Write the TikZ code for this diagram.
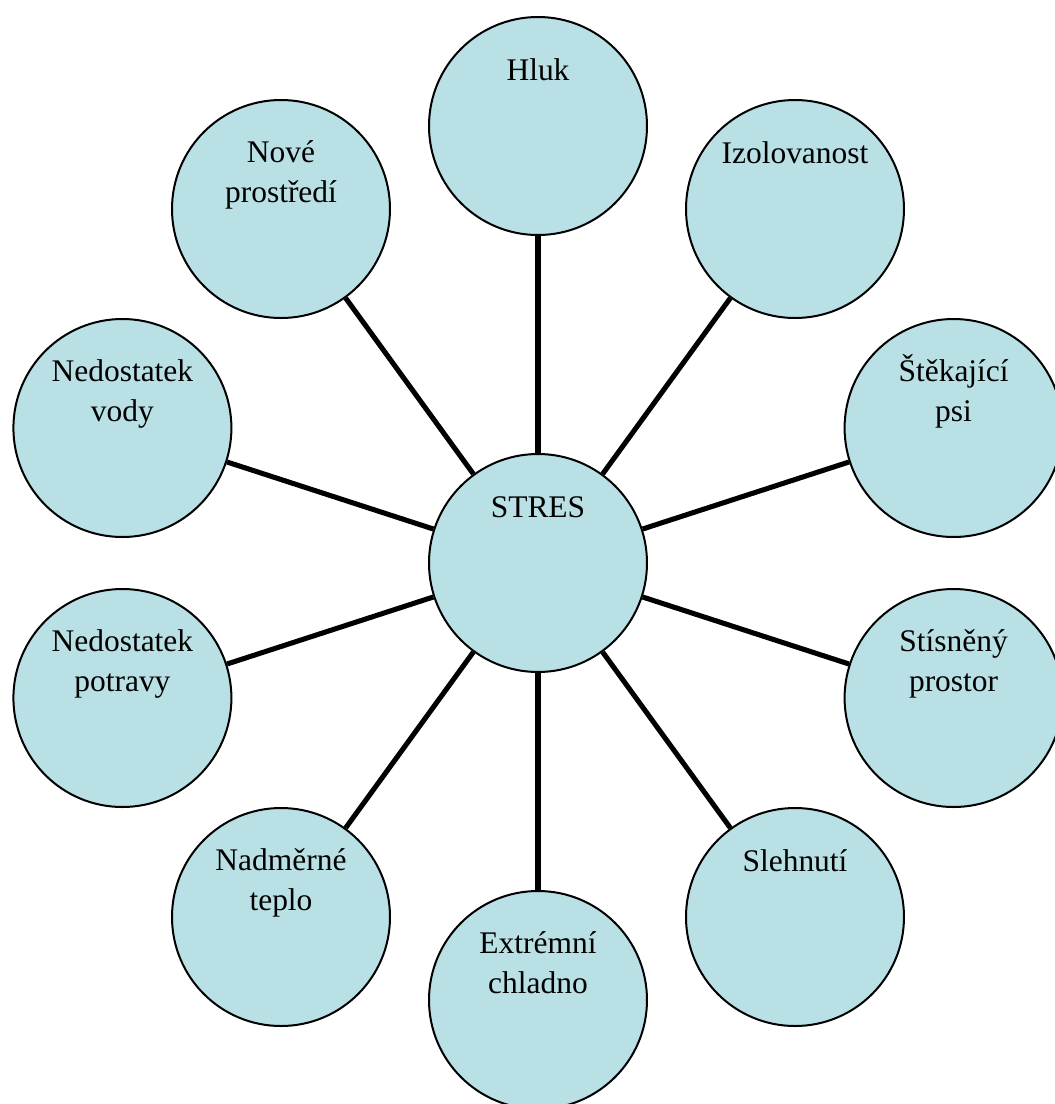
\documentclass[tikz,border=0pt]{standalone}
\usepackage{fontspec}
\setmainfont{Liberation Serif}
\usetikzlibrary{calc}
\definecolor{bubblefill}{RGB}{185,224,228}
\begin{document}
\begin{tikzpicture}[x=0.75pt,y=-0.75pt,
  bubble/.style={circle,draw=black,line width=1.5pt,fill=bubblefill,minimum size=163.5pt,inner sep=0pt},
  txt/.style={anchor=base,align=center,inner sep=0pt,font=\fontsize{23.6}{29.3}\selectfont},
  conn/.style={line width=3.8pt,black}]
\useasboundingbox (0,0) rectangle (1055,1104);
\clip (0,0) rectangle (1055,1104);
\node[bubble] (stres) at (538,563) {};
\node[bubble] (hluk) at (538,126) {};
\node[bubble] (izol) at (795,209) {};
\node[bubble] (psi) at (953.6,428) {};
\node[bubble] (prostor) at (953.6,698) {};
\node[bubble] (slehnuti) at (795,917) {};
\node[bubble] (chladno) at (538,1000) {};
\node[bubble] (teplo) at (281,917) {};
\node[bubble] (potravy) at (122.4,698) {};
\node[bubble] (vody) at (122.4,428) {};
\node[bubble] (nove) at (281,209) {};
\foreach \n in {hluk,izol,psi,prostor,slehnuti,chladno,teplo,potravy,vody,nove}
  \draw[conn] (stres) -- (\n);
\node[txt] (tstres) at ($(stres.center)+(0,-46)$) {STRES};
\node[txt] (thluk) at ($(hluk.center)+(0,-46)$) {Hluk};
\node[txt] (tizol) at ($(izol.center)+(0,-46)$) {Izolovanost};
\node[txt] (tpsi) at ($(psi.center)+(0,-7)$) {Štěkající\\psi};
\node[txt] (tprostor) at ($(prostor.center)+(0,-7)$) {Stísněný\\prostor};
\node[txt] (tslehnuti) at ($(slehnuti.center)+(0,-46)$) {Slehnutí};
\node[txt] (tchladno) at ($(chladno.center)+(0,-7)$) {Extrémní\\chladno};
\node[txt] (tteplo) at ($(teplo.center)+(0,-7)$) {Nadměrné\\teplo};
\node[txt] (tpotravy) at ($(potravy.center)+(0,-7)$) {Nedostatek\\potravy};
\node[txt] (tvody) at ($(vody.center)+(0,-7)$) {Nedostatek\\vody};
\node[txt] (tnove) at ($(nove.center)+(0,-7)$) {Nové\\prostředí};
\end{tikzpicture}
\end{document}
